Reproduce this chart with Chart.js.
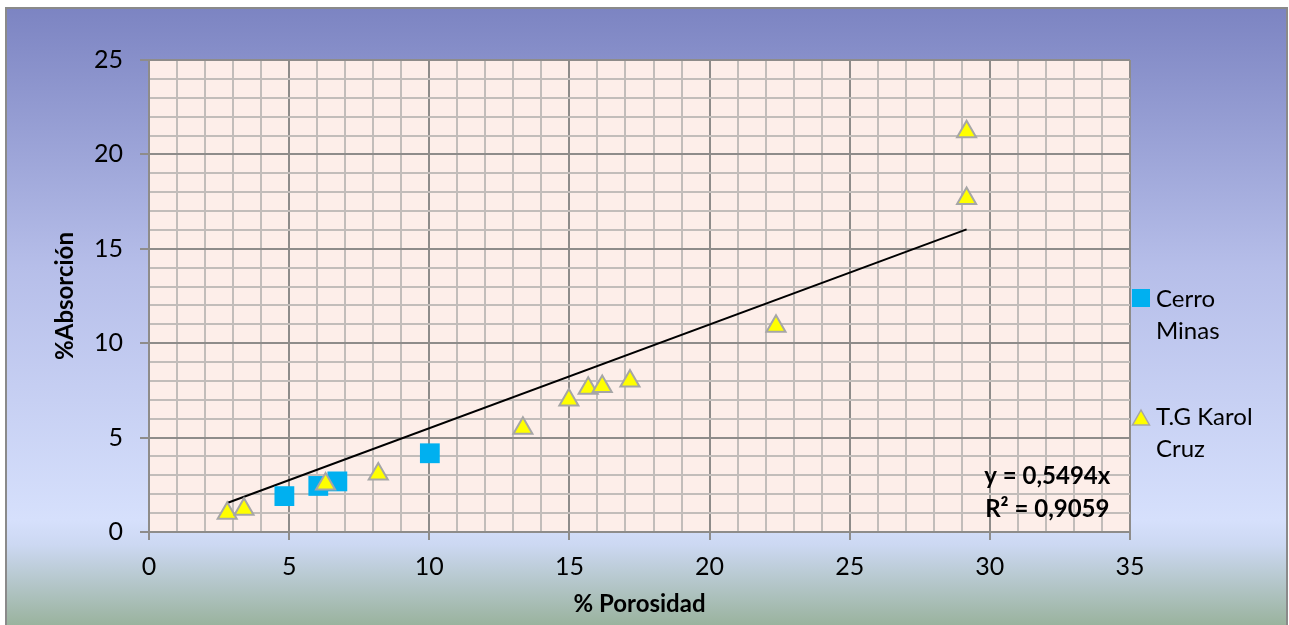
<!DOCTYPE html>
<html><head><meta charset="utf-8">
<script src="https://cdn.jsdelivr.net/npm/chart.js@4.4.1/dist/chart.umd.min.js"></script>
<style>html,body{margin:0;padding:0;background:#fff;} #wrap{width:1289px;height:625px;position:relative;}</style>
</head><body><div id="wrap"><canvas id="c" width="1289" height="625"></canvas></div>
<script>
// ---- data ----
const cerroX = [4.83, 6.04, 6.72, 10.02];
const cerroY = [1.90, 2.44, 2.68, 4.17];
const karolX = [2.79, 3.39, 6.30, 8.18, 13.34, 14.98, 15.67, 16.17, 17.16, 22.37, 29.17, 29.17];
const karolY = [0.99, 1.20, 2.54, 3.07, 5.50, 6.99, 7.61, 7.70, 8.00, 10.90, 17.67, 21.20];
const seriesNames = [['Cerro', 'Minas'], ['T.G Karol', 'Cruz']];
const trendSlope = 0.5494;
const trendLabel = ['y = 0,5494x', 'R² = 0,9059'];
const xTickLabels = ['0', '5', '10', '15', '20', '25', '30', '35'];
const yTickLabels = ['0', '5', '10', '15', '20', '25'];
const xTitle = '% Porosidad';
const yTitle = '%Absorción';

const FONT = "Lato, 'Open Sans', 'Liberation Sans', sans-serif";
const allX = cerroX.concat(karolX);
const trendX = [Math.min(...allX), Math.max(...allX)];
const cerroData = cerroX.map((x, i) => ({x, y: cerroY[i]}));
const karolData = karolX.map((x, i) => ({x, y: karolY[i]}));
const trendData = trendX.map(x => ({x, y: trendSlope * x}));

const MAJOR = '#8e8c8a', MINOR = '#c2bdba';
const isMajor = v => Math.abs(v % 5) < 1e-9;

const bgPlugin = {
  id: 'bg',
  beforeDraw(chart) {
    const {ctx, width, height, chartArea: a} = chart;
    ctx.save();
    ctx.fillStyle = '#ffffff';
    ctx.fillRect(0, 0, width, height);
    const g = ctx.createLinearGradient(0, 8, 0, height);
    g.addColorStop(0, '#7c84c2');
    g.addColorStop(0.42, '#b6bee9');
    g.addColorStop(0.83, '#d6e0fc');
    g.addColorStop(0.87, '#ccd8f2');
    g.addColorStop(1, '#9ab39e');
    ctx.fillStyle = g;
    ctx.fillRect(6, 8, width - 7, height - 8);
    ctx.strokeStyle = '#8a8a8a';
    ctx.lineWidth = 2;
    ctx.strokeRect(6, 8, width - 8, height + 4);
    ctx.fillStyle = '#fdeee9';
    ctx.fillRect(a.left, a.top, a.right - a.left, a.bottom - a.top);
    ctx.restore();
  }
};

const legendPlugin = {
  id: 'customLegend',
  afterDraw(chart) {
    const {ctx, chartArea: a, scales} = chart;
    ctx.save();
    // legend
    const mx = a.right + 11;
    ctx.fillStyle = '#00b0f0';
    ctx.fillRect(mx - 9, 289, 18, 18);
    ctx.beginPath();
    ctx.moveTo(mx, 410); ctx.lineTo(mx + 8.5, 425); ctx.lineTo(mx - 8.5, 425); ctx.closePath();
    ctx.fillStyle = '#ffff00'; ctx.fill();
    ctx.strokeStyle = '#a6a6a6'; ctx.lineWidth = 1.5; ctx.stroke();
    ctx.fillStyle = '#000';
    ctx.font = '24px ' + FONT;
    ctx.textBaseline = 'alphabetic';
    ctx.textAlign = 'left';
    const tx = a.right + 26;
    ctx.fillText(seriesNames[0][0], tx, 307);
    ctx.fillText(seriesNames[0][1], tx, 339);
    ctx.fillText(seriesNames[1][0], tx, 425);
    ctx.fillText(seriesNames[1][1], tx, 457);
    // trend equation
    ctx.font = 'bold 24px ' + FONT;
    ctx.textAlign = 'center';
    const cx = scales.x.getPixelForValue(32.05);
    ctx.fillText(trendLabel[0], cx, 484);
    ctx.fillText(trendLabel[1], cx, 517);
    ctx.restore();
  }
};

new Chart(document.getElementById('c'), {
  type: 'scatter',
  data: {
    datasets: [
      {label: seriesNames[1].join(' '), data: karolData, pointStyle: 'triangle', pointRadius: 11, pointHoverRadius: 11,
       backgroundColor: '#ffff00', borderColor: '#a6a6a6', borderWidth: 2, order: 0},
      {label: seriesNames[0].join(' '), data: cerroData, pointStyle: 'rect', pointRadius: 14, pointHoverRadius: 14,
       backgroundColor: '#00b0f0', borderColor: '#00b0f0', borderWidth: 0, order: 1},
      {label: 'trend', type: 'line', data: trendData, showLine: true, borderColor: '#000000', borderWidth: 2,
       pointRadius: 0, fill: false, order: 2}
    ]
  },
  options: {
    responsive: false,
    animation: false,
    devicePixelRatio: 1,
    layout: {padding: {left: 0, top: 60, right: 159, bottom: 0}},
    plugins: {legend: {display: false}, tooltip: {enabled: false}},
    scales: {
      x: {
        type: 'linear', min: 0, max: 35,
        afterFit(s) { s.height = 93; },
        ticks: {stepSize: 1, autoSkip: false, maxRotation: 0, padding: 12, color: '#000',
          font: {family: FONT, size: 25},
          callback: v => isMajor(v) ? xTickLabels[Math.round(v / 5)] : ''},
        grid: {color: c => isMajor(c.tick.value) ? MAJOR : MINOR, lineWidth: 2, tickLength: 8,
          tickColor: c => isMajor(c.tick.value) ? MAJOR : 'rgba(0,0,0,0)'},
        border: {color: MAJOR, width: 2},
        title: {display: true, text: xTitle, color: '#000', font: {family: FONT, size: 24, weight: 'bold'}, padding: {top: 0, bottom: 6}}
      },
      y: {
        type: 'linear', min: 0, max: 25,
        afterFit(s) { s.width = 149; },
        ticks: {stepSize: 1, autoSkip: false, padding: 17, color: '#000',
          font: {family: FONT, size: 25},
          callback: v => isMajor(v) ? yTickLabels[Math.round(v / 5)] : ''},
        grid: {color: c => isMajor(c.tick.value) ? MAJOR : MINOR, lineWidth: 2, tickLength: 9,
          tickColor: c => isMajor(c.tick.value) ? MAJOR : 'rgba(0,0,0,0)'},
        border: {color: MAJOR, width: 2},
        title: {display: true, text: yTitle, color: '#000', font: {family: FONT, size: 24, weight: 'bold'}, padding: {top: 51, bottom: 0}}
      }
    }
  },
  plugins: [bgPlugin, legendPlugin]
});
</script>
</body></html>
